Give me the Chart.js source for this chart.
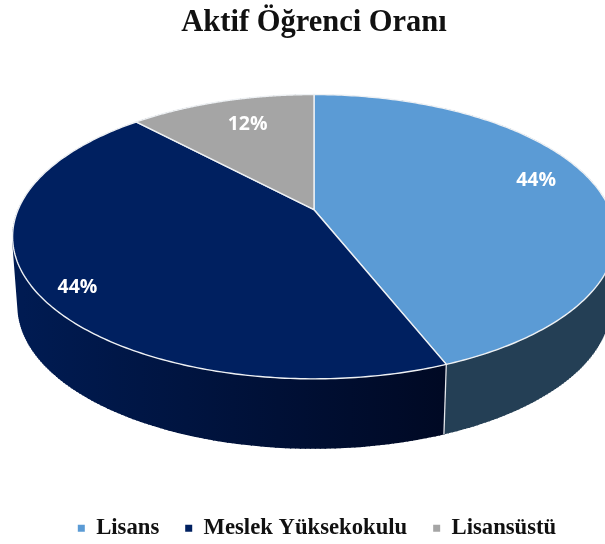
<!DOCTYPE html>
<html><head><meta charset="utf-8">
<style>html,body{margin:0;padding:0;background:#fff;overflow:hidden}canvas{display:block}</style>
<script src="https://cdn.jsdelivr.net/npm/chart.js@4/dist/chart.umd.min.js"></script>
</head><body><canvas id="c" width="605" height="544"></canvas>
<script>
const categories = ['Lisans', 'Meslek Yüksekokulu', 'Lisansüstü'];
const shares = [44, 44, 12];
const faceColors = ['#5B9BD5', '#002060', '#A5A5A5'];
const wallColors = [['#243F55', '#243F55'], ['#001B52', '#000924'], ['#636363', '#636363']];
const chartTitle = 'Aktif Öğrenci Oranı';

const tilt = 0.19, stretchX = 2.16, depth = 70, baseScale = 0.982, steps = 200;
const legendCentreShift = 3, legendTextY = 527;
const labelRadius = [0.8, 0.85, 0.8];
const labelNudge = [[-4, -9], [-4, 9], [10, 4]];

function project(arc, angle, t, isBase) {
  const X = t * Math.cos(angle), Y = t * Math.sin(angle), d = 1 - tilt * Y;
  const s = isBase ? baseScale : 1;
  return [arc.x + s * stretchX * arc.outerRadius * X / d,
          arc.y + arc.outerRadius * Y / d + (isBase ? depth : 0)];
}
function rim(ctx, arc, isBase, from, to, move) {
  for (let i = 0; i <= steps; i++) {
    const p = project(arc, from + (to - from) * i / steps, 1, isBase);
    if (i === 0 && move) ctx.moveTo(p[0], p[1]); else ctx.lineTo(p[0], p[1]);
  }
}
const pie3d = {
  id: 'pie3d',
  afterLayout(chart) {
    const lg = chart.legend;
    const h = lg.bottom - lg.top;
    lg.left += legendCentreShift; lg.right += legendCentreShift;
    lg.top = legendTextY - 10 - lg.options.labels.padding;
    lg.bottom = lg.top + h;
  },
  beforeDatasetsDraw(chart) {
    const ctx = chart.ctx, arcs = chart.getDatasetMeta(0).data;
    const props = arcs.map(a => a.getProps(['x', 'y', 'startAngle', 'endAngle', 'outerRadius'], true));
    ctx.save();
    props.forEach((a, i) => {
      const lft = project(a, Math.PI, 1, true)[0], rgt = project(a, 0, 1, true)[0];
      const g = ctx.createLinearGradient(lft, 0, lft + (rgt - lft) * 0.72, 0);
      g.addColorStop(0, wallColors[i][0]); g.addColorStop(1, wallColors[i][1]);
      ctx.beginPath();
      rim(ctx, a, false, a.startAngle, a.endAngle, true);
      rim(ctx, a, true, a.endAngle, a.startAngle, false);
      ctx.closePath();
      ctx.fillStyle = g; ctx.fill();
      // sweep the rim downwards so the silhouette has straight side edges
      ctx.strokeStyle = g; ctx.lineWidth = 1.2;
      ctx.beginPath();
      for (let k = 0; k <= steps; k++) {
        const ang = a.startAngle + (a.endAngle - a.startAngle) * k / steps;
        const p = project(a, ang, 1, false), q = project(a, ang, 1, true);
        ctx.moveTo(p[0], p[1]); ctx.lineTo(q[0], q[1]);
      }
      ctx.stroke();
    });
    // white seam where the walls meet
    const seam = props[0];
    const p0 = project(seam, seam.endAngle, 1, false), p1 = project(seam, seam.endAngle, 1, true);
    ctx.strokeStyle = '#E4E8EC'; ctx.lineWidth = 1.3;
    ctx.beginPath(); ctx.moveTo(p0[0], p0[1]); ctx.lineTo(p1[0], p1[1]); ctx.stroke();
    props.forEach((a, i) => {
      ctx.beginPath();
      ctx.moveTo(a.x, a.y);
      rim(ctx, a, false, a.startAngle, a.endAngle, false);
      ctx.closePath();
      ctx.fillStyle = faceColors[i]; ctx.fill();
      ctx.strokeStyle = '#EEF1F4'; ctx.lineWidth = 1.4; ctx.lineJoin = 'round'; ctx.stroke();
    });
    const total = shares.reduce((s, v) => s + v, 0);
    ctx.fillStyle = '#fff'; ctx.font = 'bold 19.5px "Open Sans"';
    ctx.textAlign = 'center'; ctx.textBaseline = 'middle';
    props.forEach((a, i) => {
      const p = project(a, (a.startAngle + a.endAngle) / 2, labelRadius[i], false);
      ctx.fillText(Math.round(shares[i] / total * 100) + '%', p[0] + labelNudge[i][0], p[1] + labelNudge[i][1]);
    });
    ctx.restore();
    return false;
  }
};
new Chart(document.getElementById('c'), {
  type: 'pie',
  data: { labels: categories, datasets: [{ data: shares, backgroundColor: faceColors, borderWidth: 0 }] },
  plugins: [pie3d],
  options: {
    responsive: false, animation: false, radius: 137,
    layout: { padding: { left: 23, right: 0, top: 0, bottom: 107.5 } },
    plugins: {
      tooltip: { enabled: false },
      title: { display: true, text: chartTitle, color: '#111',
        font: { family: '"Liberation Serif"', size: 30.5, weight: 'bold' }, padding: { top: 5, bottom: 0 } },
      legend: { position: 'bottom',
        labels: { color: '#111', boxWidth: 7, boxHeight: 7, padding: 26,
          font: { family: '"Liberation Serif"', size: 22.7, weight: 'bold' } } }
    }
  }
});
</script></body></html>
